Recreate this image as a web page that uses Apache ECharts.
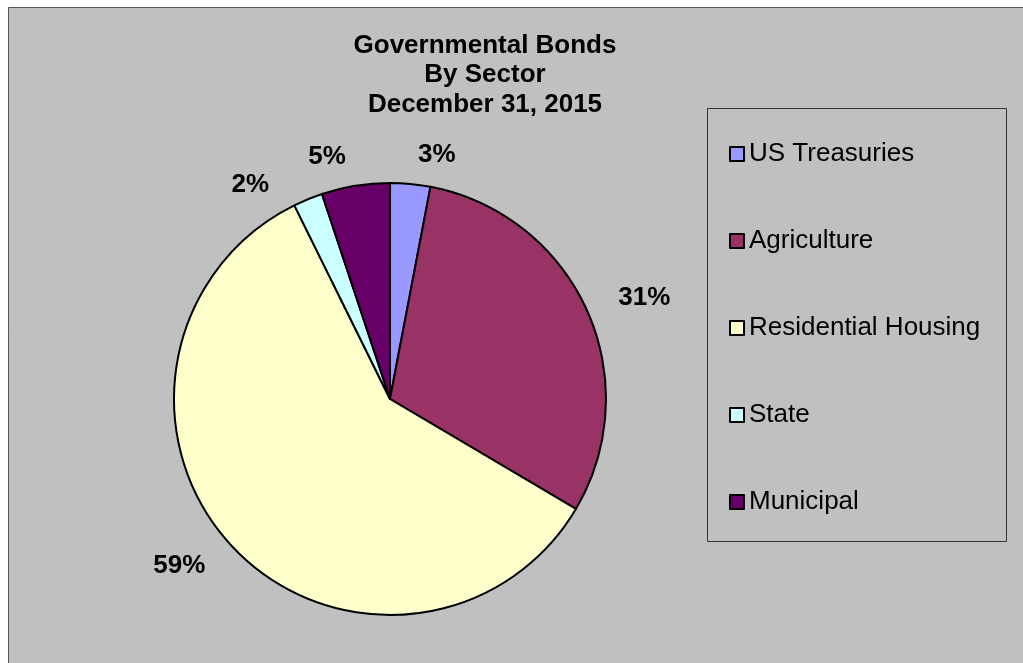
<!DOCTYPE html>
<html>
<head>
<meta charset="utf-8">
<script src="https://cdn.jsdelivr.net/npm/echarts@6/dist/echarts.min.js"></script>
<style>
  html, body { margin: 0; padding: 0; background: #fff; }
  #chart { width: 1023px; height: 663px; }
</style>
</head>
<body>
<div id="chart"></div>
<script>
  // Governmental bonds by sector, Dec 31 2015 (shares)
  var sectors = ["US Treasuries", "Agriculture", "Residential Housing", "State", "Municipal"];
  var shares = [3.0, 30.5, 59.2, 2.2, 5.1];
  var colors = ["#9999ff", "#993366", "#ffffcc", "#ccffff", "#660066"];
  var titleLines = ["Governmental Bonds", "By Sector", "December 31, 2015"];

  var FONT = '"Liberation Sans", Arial, sans-serif';

  var chart = echarts.init(document.getElementById("chart"));

  var pieData = sectors.map(function (name, i) {
    return { name: name, value: shares[i] };
  });

  chart.setOption({
    animation: false,
    color: colors,
    textStyle: { fontFamily: FONT },
    graphic: [{
      type: "rect",
      z: -10,
      shape: { x: 8.5, y: 7.5, width: 1200, height: 800 },
      style: { fill: "#c0c0c0", stroke: "#555", lineWidth: 1 }
    }, {
      type: "rect",
      z: -5,
      shape: { x: 707.5, y: 108.5, width: 299, height: 433 },
      style: { fill: "none", stroke: "#333", lineWidth: 1 }
    }],
    title: {
      text: titleLines.join("\n"),
      left: 480,
      top: 26,
      textAlign: "center",
      textStyle: { fontFamily: FONT, fontSize: 26, fontWeight: "bold", color: "#000", lineHeight: 29.5 }
    },
    legend: {
      orient: "vertical",
      left: 724,
      top: 136,
      itemWidth: 14,
      itemHeight: 14,
      itemGap: 61,
      icon: "rect",
      itemStyle: { borderColor: "#000", borderWidth: 2 },
      textStyle: { fontFamily: FONT, fontSize: 26, color: "#000", lineHeight: 26 },
      data: sectors
    },
    series: [{
      type: "pie",
      center: [390, 399],
      radius: 216,
      startAngle: 90,
      clockwise: true,
      percentPrecision: 0,
      avoidLabelOverlap: true,
      itemStyle: { borderColor: "#000", borderWidth: 2 },
      label: {
        show: true,
        position: "outside",
        formatter: "{d}%",
        fontFamily: FONT,
        fontSize: 26,
        fontWeight: "bold",
        color: "#000"
      },
      labelLine: { show: false, length: 29, length2: 0 },
      emphasis: { disabled: true },
      data: pieData
    }]
  });
</script>
</body>
</html>
